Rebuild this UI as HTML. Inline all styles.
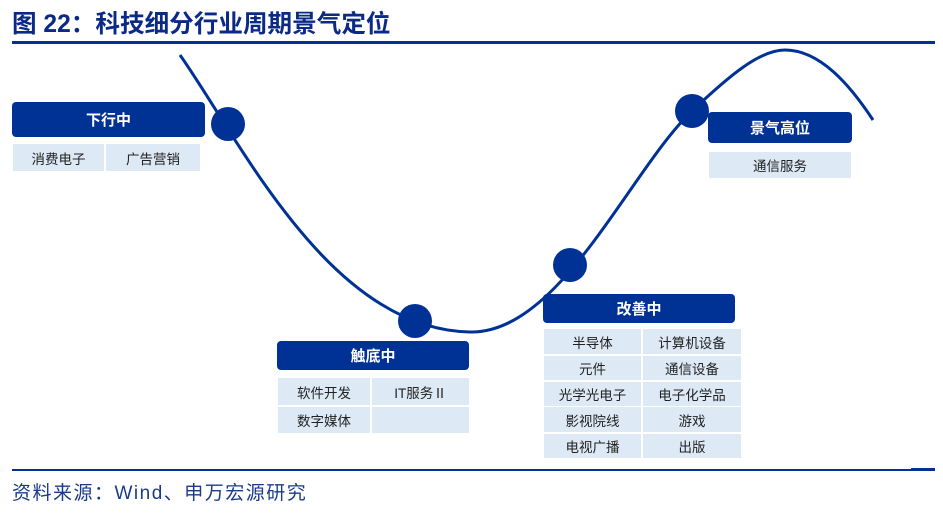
<!DOCTYPE html>
<html><head><meta charset="utf-8"><style>
body{margin:0;width:943px;height:517px;background:#fff;position:relative;overflow:hidden;font-family:"Liberation Sans","Noto Sans CJK SC",sans-serif}
.a{position:absolute}
.h{position:absolute;background:#003296;color:#fff;font-weight:bold;font-size:15px;display:flex;align-items:center;justify-content:center;border-radius:4px}
.c{position:absolute;background:#dde9f5;color:#222;font-size:13.5px;display:flex;align-items:center;justify-content:center}
</style></head><body>
<div class="a" style="left:12px;top:8px;font-size:24.6px;font-weight:bold;color:#0a2a85;line-height:33px">图 22：科技细分行业周期景气定位</div>
<div class="a" style="left:12px;top:41px;width:923px;height:3px;background:#003296"></div>
<svg class="a" style="left:0;top:0" width="943" height="517">
<path d="M180,55 C240,140 330,330 470,332 C560,334 630,170 692,111 C730,75 760,50 785,50 C820,50 850,85 873,120" fill="none" stroke="#003296" stroke-width="3"/>
<circle cx="228" cy="124" r="17" fill="#003296"/>
<circle cx="415" cy="321" r="17" fill="#003296"/>
<circle cx="570" cy="265" r="17" fill="#003296"/>
<circle cx="692" cy="111" r="17" fill="#003296"/>
</svg>
<div class="h" style="left:12px;top:102px;width:193px;height:35px">下行中</div>
<div class="c" style="left:13px;top:144px;width:91px;height:27px">消费电子</div>
<div class="c" style="left:106px;top:144px;width:94px;height:27px">广告营销</div>

<div class="h" style="left:277px;top:341px;width:192px;height:29px">触底中</div>
<div class="c" style="left:278px;top:378px;width:92px;height:27px">软件开发</div>
<div class="c" style="left:372px;top:378px;width:97px;height:27px">IT服务Ⅱ</div>
<div class="c" style="left:278px;top:407px;width:92px;height:26px">数字媒体</div>
<div class="c" style="left:372px;top:407px;width:97px;height:26px"></div>

<div class="h" style="left:543px;top:294px;width:192px;height:29px">改善中</div>
<div class="c" style="left:544px;top:329px;width:97px;height:25px">半导体</div>
<div class="c" style="left:643px;top:329px;width:98px;height:25px">计算机设备</div>
<div class="c" style="left:544px;top:356px;width:97px;height:24px">元件</div>
<div class="c" style="left:643px;top:356px;width:98px;height:24px">通信设备</div>
<div class="c" style="left:544px;top:382px;width:97px;height:24px">光学光电子</div>
<div class="c" style="left:643px;top:382px;width:98px;height:24px">电子化学品</div>
<div class="c" style="left:544px;top:407px;width:97px;height:25px">影视院线</div>
<div class="c" style="left:643px;top:407px;width:98px;height:25px">游戏</div>
<div class="c" style="left:544px;top:434px;width:97px;height:24px">电视广播</div>
<div class="c" style="left:643px;top:434px;width:98px;height:24px">出版</div>

<div class="h" style="left:708px;top:112px;width:144px;height:31px">景气高位</div>
<div class="c" style="left:709px;top:152px;width:142px;height:26px">通信服务</div>

<div class="a" style="left:12px;top:469px;width:923px;height:2px;background:#003296"></div>
<div class="a" style="left:911px;top:468px;width:24px;height:3px;background:#003296"></div>
<div class="a" style="left:12px;top:480px;font-size:19px;letter-spacing:1.5px;color:#1a3a8a;line-height:28px">资料来源：Wind、申万宏源研究</div>
</body></html>
